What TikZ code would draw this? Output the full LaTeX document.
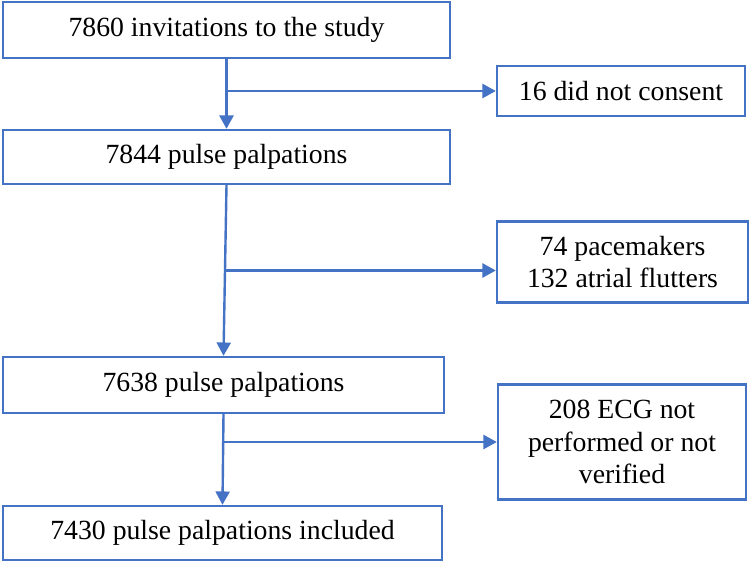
\documentclass[tikz,border=0pt]{standalone}
\usepackage{fontspec}
\setmainfont{Liberation Serif}
\definecolor{officeblue}{RGB}{68, 114, 196}
\usetikzlibrary{arrows.meta, positioning, calc}
\tikzset{
	flowbox/.style={rectangle, draw=officeblue, line width=1.8pt, inner sep=0pt,
		align=center, font=\fontsize{20.8}{24.5}\selectfont},
	mainbox/.style={flowbox},
	exclbox/.style={flowbox},
	line/.style={draw=officeblue, line width=1.8pt, -{Triangle[length=10pt, width=10.5pt]}}
}
\begin{document}
\begin{tikzpicture}[x=0.75pt, y=-0.75pt]
		\useasboundingbox (0,0) rectangle (750,563);
		\node[mainbox, minimum width=335.25pt, minimum height=42pt] (invite) at (226.5,30) {7860 invitations to the study};
		\node[exclbox, minimum width=186pt, minimum height=37.5pt] (consent) at (621,91) {16 did not consent};
		\node[mainbox, minimum width=335.25pt, minimum height=40.5pt] (palp1) at (226.5,157) {7844 pulse palpations};
		\node[exclbox, minimum width=188.25pt, minimum height=60.75pt] (pacer) at (622.5,262) {74 pacemakers\\132 atrial flutters};
		\node[mainbox, minimum width=330.75pt, minimum height=42pt] (palp2) at (223.5,385) {7638 pulse palpations};
		\node[exclbox, minimum width=186pt, minimum height=86.25pt] (ecg) at (622,442) {208 ECG not\\performed or not\\verified};
		\node[mainbox, minimum width=329.25pt, minimum height=40.5pt] (incl) at (222.5,533) {7430 pulse palpations included};
		% main flow
		\draw[line] (invite.south) -- (palp1.north);
		\draw[line] (palp1.south) -- (palp2.north);
		\draw[line] (palp2.south) -- (incl.north);
		% exclusions
		\draw[line] (invite.south |- consent.west) -- (consent.west);
		\draw[line] ($(palp1.south)!0.5!(palp2.north)$) coordinate (split2) -- (split2 -| pacer.west);
		\draw[line] (palp2.south |- ecg.west) -- (ecg.west);
\end{tikzpicture}
\end{document}
